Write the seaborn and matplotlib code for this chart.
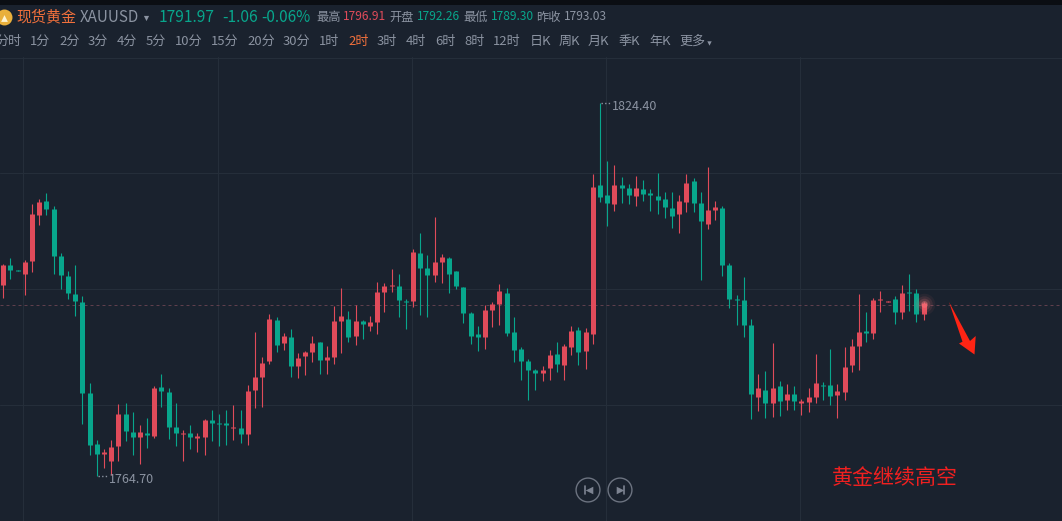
import pandas as pd
import numpy as np
import matplotlib
matplotlib.use("Agg")
import matplotlib.pyplot as plt
from matplotlib.patches import Polygon, Rectangle
import seaborn as sns

# -------------------------
# Data (XAUUSD 2h candles)
# -------------------------
highs = [1798.59, 1799.55, 1797.63, 1799.23, 1808.19, 1808.99, 1809.95, 1807.87, 1800.35, 1797.47,
         1798.43, 1793.47, 1779.55, 1770.43, 1769.03, 1770.43, 1776.19, 1776.35, 1774.91, 1772.83,
         1773.95, 1779.07, 1780.99, 1778.75, 1776.35, 1772.03, 1772.83, 1771.55, 1773.79, 1775.23,
         1774.59, 1775.23, 1776.03, 1775.23, 1779.23, 1787.71, 1783.71, 1790.59, 1790.11, 1787.55,
         1788.19, 1784.35, 1784.67, 1787.07, 1786.11, 1785.47, 1791.87, 1794.75, 1791.07, 1792.03,
         1789.63, 1790.27, 1795.71, 1795.55, 1797.79, 1796.99, 1792.99, 1801.03, 1803.55, 1800.03,
         1806.11, 1800.19, 1799.71, 1797.47, 1794.91, 1790.91, 1788.67, 1792.03, 1792.51, 1795.39,
         1794.75, 1790.11, 1785.31, 1783.39, 1781.79, 1782.27, 1784.83, 1786.11, 1785.79, 1788.67,
         1788.51, 1788.35, 1812.99, 1824.40, 1815.07, 1814.43, 1812.51, 1811.39, 1812.67, 1812.03,
         1810.59, 1813.15, 1810.11, 1810.11, 1809.63, 1812.99, 1812.35, 1810.11, 1814.11, 1808.67,
         1807.87, 1798.75, 1793.63, 1796.51, 1789.79, 1780.99, 1781.47, 1785.95, 1779.87, 1779.39,
         1779.07, 1776.99, 1778.75, 1784.19, 1779.71, 1784.99, 1779.39, 1785.31, 1786.59, 1793.79,
         1790.91, 1793.15, 1794.27, 1792.67, 1793.47, 1795.23, 1796.99, 1794.59, 1792.51]
lows = [1793.15, 1796.19, 1797.47, 1793.63, 1797.31, 1804.83, 1806.43, 1796.99, 1794.59, 1792.99,
        1790.27, 1772.99, 1768.03, 1764.70, 1765.95, 1764.83, 1767.07, 1770.27, 1768.03, 1766.59,
        1769.15, 1770.75, 1775.71, 1770.59, 1769.47, 1767.07, 1768.99, 1768.51, 1768.03, 1770.27,
        1769.47, 1769.63, 1770.43, 1769.95, 1769.63, 1775.55, 1775.71, 1782.59, 1784.51, 1784.83,
        1780.51, 1780.35, 1780.83, 1782.91, 1780.99, 1780.99, 1782.59, 1784.35, 1786.11, 1785.63,
        1786.59, 1787.87, 1787.39, 1790.91, 1794.11, 1790.11, 1788.19, 1791.71, 1790.43, 1790.11,
        1795.71, 1795.55, 1793.95, 1794.59, 1789.15, 1785.79, 1784.67, 1784.99, 1788.51, 1788.83,
        1787.07, 1782.91, 1780.03, 1776.83, 1778.43, 1779.87, 1780.03, 1781.31, 1780.03, 1784.03,
        1782.43, 1781.79, 1785.79, 1808.51, 1804.67, 1807.07, 1808.35, 1808.19, 1807.87, 1808.67,
        1807.07, 1806.59, 1805.95, 1804.35, 1803.55, 1806.91, 1806.91, 1796.03, 1804.19, 1805.63,
        1796.67, 1791.55, 1788.83, 1786.91, 1773.79, 1775.07, 1773.95, 1774.11, 1774.27, 1775.23,
        1775.23, 1774.43, 1774.91, 1776.35, 1776.83, 1776.03, 1773.95, 1776.83, 1781.31, 1781.63,
        1786.11, 1786.59, 1790.91, 1792.51, 1788.99, 1789.79, 1791.07, 1789.31, 1789.63]
opens = [1795.23, 1798.43, 1797.63, 1796.99, 1799.07, 1806.43, 1808.67, 1807.39, 1799.87, 1796.67,
         1793.79, 1792.51, 1777.95, 1769.79, 1768.19, 1767.07, 1769.47, 1774.59, 1771.71, 1770.91,
         1771.55, 1771.07, 1778.91, 1778.11, 1772.51, 1771.39, 1771.55, 1770.75, 1770.91, 1773.63,
         1773.15, 1773.15, 1772.35, 1772.35, 1771.39, 1778.43, 1780.51, 1783.07, 1789.63, 1785.95,
         1786.91, 1782.27, 1783.87, 1784.51, 1786.11, 1783.23, 1783.71, 1789.47, 1789.79, 1787.07,
         1789.47, 1788.67, 1789.31, 1794.11, 1795.07, 1795.07, 1792.67, 1792.67, 1800.35, 1797.95,
         1796.83, 1798.91, 1799.55, 1797.47, 1794.91, 1790.75, 1787.39, 1786.91, 1791.23, 1792.19,
         1793.95, 1787.71, 1784.99, 1783.07, 1781.63, 1781.15, 1781.95, 1784.19, 1782.43, 1785.31,
         1788.03, 1784.67, 1787.39, 1811.23, 1809.63, 1808.19, 1811.23, 1810.75, 1809.47, 1810.59,
         1809.95, 1809.47, 1808.99, 1807.55, 1806.59, 1808.51, 1811.87, 1808.35, 1804.99, 1807.23,
         1807.55, 1798.43, 1792.99, 1792.83, 1788.83, 1777.31, 1778.43, 1776.35, 1779.07, 1776.83,
         1777.79, 1776.35, 1776.51, 1777.31, 1779.23, 1779.23, 1777.63, 1778.11, 1782.43, 1785.47,
         1787.87, 1787.55, 1792.83, 1792.51, 1792.99, 1790.91, 1794.11, 1793.95, 1790.59]
closes = [1798.43, 1797.63, 1797.47, 1798.91, 1806.59, 1808.51, 1807.39, 1799.87, 1796.83, 1793.95,
          1792.67, 1777.95, 1769.63, 1768.19, 1768.51, 1769.31, 1774.59, 1771.87, 1770.91, 1771.71,
          1771.23, 1778.75, 1778.27, 1772.51, 1771.55, 1771.55, 1770.91, 1771.07, 1773.63, 1773.15,
          1772.99, 1772.83, 1772.51, 1771.39, 1778.27, 1780.51, 1782.75, 1789.79, 1785.63, 1787.07,
          1782.27, 1783.55, 1784.51, 1785.95, 1783.23, 1783.71, 1789.47, 1790.27, 1786.91, 1789.47,
          1788.99, 1789.31, 1794.11, 1795.07, 1795.23, 1792.83, 1792.51, 1800.51, 1797.95, 1796.83,
          1798.91, 1799.71, 1796.99, 1795.07, 1790.75, 1787.07, 1786.91, 1791.23, 1792.19, 1794.27,
          1787.55, 1784.83, 1783.07, 1781.63, 1781.15, 1781.63, 1784.03, 1782.59, 1785.47, 1787.87,
          1784.51, 1787.71, 1810.91, 1809.31, 1808.35, 1811.23, 1810.75, 1809.63, 1810.75, 1809.79,
          1809.63, 1808.83, 1807.71, 1806.27, 1808.67, 1811.55, 1808.35, 1805.47, 1807.23, 1807.71,
          1798.43, 1792.99, 1792.83, 1788.83, 1777.79, 1778.75, 1776.35, 1778.75, 1776.67, 1777.79,
          1776.67, 1776.67, 1777.31, 1779.55, 1779.07, 1777.47, 1778.27, 1782.11, 1785.47, 1787.71,
          1787.55, 1792.83, 1792.99, 1792.67, 1790.91, 1793.95, 1793.95, 1790.59, 1792.35]

last_price = 1791.97
top_price = 1824.40
bottom_price = 1764.70
grid_prices = [1813.07, 1794.51, 1775.95]

timeframes = ["分时", "1分", "2分", "3分", "4分", "5分", "10分", "15分", "20分", "30分", "1时", "2时",
              "3时", "4时", "6时", "8时", "12时", "日K", "周K", "月K", "季K", "年K", "更多"]
timeframe_x = [-5, 30, 59, 88, 117, 146, 175, 211, 247, 283, 319, 348,
               377, 406, 435, 464, 493, 530, 559, 588, 619, 649, 679]
active_timeframe = "2时"

# -------------------------
# Colours
# -------------------------
BG = "#1a222e"
GRID = "#252e3a"
RED = "#e04b5a"
GREEN = "#08a68c"
GRAY = "#8b93a1"
ORANGE = "#f0703c"

sns.set_theme(style="dark", rc={"axes.facecolor": BG, "figure.facecolor": BG})
plt.rcParams["font.family"] = ["Noto Sans CJK SC", "DejaVu Sans"]

# -------------------------
# Prepare candles
# -------------------------
df = pd.DataFrame({"high": highs, "open": opens, "close": closes, "low": lows})
df["i"] = df.index
df["dir"] = np.where(df["close"] >= df["open"], "up", "down")

wicks = df.melt(id_vars=["i", "dir"], value_vars=["high", "low"], value_name="price")
bodies = df.melt(id_vars=["i", "dir"], value_vars=["open", "close"], value_name="price")
colors = {"up": RED, "down": GREEN}

# -------------------------
# Chart
# -------------------------
fig = plt.figure(figsize=(10.62, 5.21), dpi=100)
ax = fig.add_axes([0, 0, 1, 464 / 521])
ax.set_xlim(-0.459, 147.25)
ax.set_ylim(1757.47, 1831.71)
ax.set_xticks([])
ax.set_yticks([])
for s in ax.spines.values():
    s.set_visible(False)

for p in grid_prices:
    ax.axhline(p, color=GRID, lw=0.8, zorder=1)
for i in range(5):
    ax.axvline(2.8 + 27 * i, color=GRID, lw=0.8, zorder=1)
ax.axhline(last_price, xmax=1059 / 1062, color="#5f3f4c", lw=0.72, dashes=(3, 3), zorder=1.5)

sns.lineplot(data=wicks, x="i", y="price", hue="dir", units="i", estimator=None, palette=colors,
             linewidth=0.8, legend=False, sort=False, solid_capstyle="butt", ax=ax, zorder=3)
sns.lineplot(data=bodies, x="i", y="price", hue="dir", units="i", estimator=None, palette=colors,
             linewidth=3.6, legend=False, sort=False, solid_capstyle="butt", ax=ax, zorder=3)
ax.set_xlabel("")
ax.set_ylabel("")

# glow on the last candle
last_i = len(df) - 1
for size, alpha in [(240, 0.06), (140, 0.10), (70, 0.18), (24, 0.40)]:
    ax.scatter([last_i], [last_price + 0.2], s=size, color="#ff7a80", alpha=alpha, lw=0, zorder=4)

# high / low labels
hi_i = highs.index(top_price)
lo_i = lows.index(bottom_price)
ax.plot([hi_i + 0.15, hi_i + 1.4], [top_price, top_price], color=GRAY, lw=1, ls=(0, (1, 1.6)), zorder=4)
ax.plot([lo_i + 0.15, lo_i + 1.4], [bottom_price, bottom_price], color=GRAY, lw=1, ls=(0, (1, 1.6)), zorder=4)
ax.annotate(f"{top_price:.2f}", (hi_i, top_price), xytext=(8.6, -3), textcoords="offset points",
            color=GRAY, fontsize=9, va="center", ha="left")
ax.annotate(f"{bottom_price:.2f}", (lo_i, bottom_price), xytext=(8.6, -3), textcoords="offset points",
            color=GRAY, fontsize=9, va="center", ha="left")

# -------------------------
# Overlay in pixel coordinates: header, buttons, arrow, note
# -------------------------
ov = fig.add_axes([0, 0, 1, 1], facecolor="none")
ov.set_xlim(0, 1062)
ov.set_ylim(521, 0)
ov.axis("off")

ov.add_patch(Rectangle((0, 0), 1062, 5, color="#0b0e13", lw=0))
ov.plot([0, 1062], [57.5, 57.5], color=GRID, lw=0.8)
ov.scatter([4], [17], s=132, color="#e9b03c", lw=0)
ov.scatter([4], [17.5], s=24, color="#fff4d0", marker="^", lw=0)

def label(x, y, s, color=GRAY, size=9.4):
    ov.text(x, y, s, color=color, fontsize=size, va="center", ha="left")

label(16, 17, "现货黄金", ORANGE, 10.8)
label(80, 17, "XAUUSD", GRAY, 10.9)
ov.scatter([146], [18], s=14, color=GRAY, marker="v", lw=0)
label(159, 17, "1791.97", GREEN, 11.2)
label(222, 17, "-1.06", GREEN, 11.2)
label(261, 17, "-0.06%", GREEN, 11)
label(316, 17, "最高", GRAY, 8.8)
label(343, 17, "1796.91", RED, 8.6)
label(389, 17, "开盘", GRAY, 8.8)
label(417, 17, "1792.26", GREEN, 8.6)
label(463, 17, "最低", GRAY, 8.8)
label(491, 17, "1789.30", GREEN, 8.6)
label(536, 17, "昨收", GRAY, 8.8)
label(564, 17, "1793.03", GRAY, 8.6)

for x, s in zip(timeframe_x, timeframes):
    label(x, 41, s, ORANGE if s == active_timeframe else GRAY, 9.4)
ov.scatter([709], [43], s=10, color=GRAY, marker="v", lw=0)

# prev / next buttons
ov.scatter([588, 620], [490, 490], s=295, facecolor="none", edgecolor="#6c7380", lw=1.0)
ov.scatter([589], [490], s=30, color="#7c8391", marker="<", lw=0)
ov.scatter([619.5], [490], s=30, color="#7c8391", marker=">", lw=0)
ov.plot([585, 585], [486, 494], color="#7c8391", lw=1.2)
ov.plot([623.5, 623.5], [486, 494], color="#7c8391", lw=1.2)

# red arrow and note
ov.add_patch(Polygon([(949, 302), (970, 341), (975.7, 336), (974.5, 354.5), (959, 343.5), (962.5, 341.7)],
                     closed=True, color="#ff2414", lw=0))
label(832, 478, "黄金继续高空", "#f02020", 15.1)

fig.savefig("out.png", dpi=100, facecolor=BG)
